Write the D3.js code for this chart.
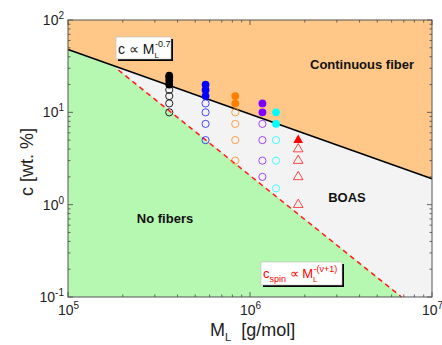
<!DOCTYPE html>
<html>
<head>
<meta charset="utf-8">
<script src="https://cdn.jsdelivr.net/npm/d3@7"></script>
<style>
  body { margin: 0; background: #fff; }
  svg text { font-family: "Liberation Sans", Arial, sans-serif; }
</style>
</head>
<body>
<svg id="chart" width="442" height="345"></svg>
<script>
// molar masses of each series (g/mol)
const seriesMass = [3.6e5, 5.7e5, 8.3e5, 1.17e6, 1.39e6, 1.84e6];
const seriesColor = ["#000000", "#0000ff", "#ff8000", "#8000ff", "#00ffff", "#ff0000"];
// concentrations, filled = continuous fiber, open = BOAS
const filledConc = [
  [20, 22, 24, 25],
  [15, 17.5, 20],
  [12.5, 15],
  [10, 12.5],
  [7.5, 10],
  [5]
];
const openConc = [
  [10, 12.5, 15, 17.5],
  [5, 7.5, 10, 12.5],
  [3, 5, 7.5, 10],
  [2, 3, 5, 7.5],
  [1.5, 3, 5],
  [1, 2, 3, 4]
];
const seriesShape = ["circle", "circle", "circle", "circle", "circle", "triangle"];

// boundary lines c = a * (M / m0)^k
const upperLine = { a: 48, m0: 1e5, k: -0.7 };
const spinLine = { a: 0.1, m0: 6.8e6, k: -1.58 };

const xTicks = [1e5, 1e6, 1e7];
const xTickExp = ["5", "6", "7"];
const yTicks = [0.1, 1, 10, 100];
const yTickExp = ["-1", "0", "1", "2"];

const svg = d3.select("#chart");
const pL = 68, pR = 432, pT = 20, pB = 297;

const x = d3.scaleLog().domain([1e5, 1e7]).range([pL, pR]);
const y = d3.scaleLog().domain([0.1, 100]).range([pB, pT]);

function lineC(l, m) { return l.a * Math.pow(m / l.m0, l.k); }
function lineM(l, c) { return l.m0 * Math.pow(c / l.a, 1 / l.k); }

// intersection of the two boundaries (log-log straight lines)
const lu = Math.log10(upperLine.a) - upperLine.k * Math.log10(upperLine.m0);
const ls = Math.log10(spinLine.a) - spinLine.k * Math.log10(spinLine.m0);
const mCross = Math.pow(10, (ls - lu) / (upperLine.k - spinLine.k));
const cCross = lineC(upperLine, mCross);
const mEnd = lineM(spinLine, 0.1);

const line = d3.line().x(d => x(d[0])).y(d => y(d[1]));

// regions
svg.append("rect").attr("x", pL).attr("y", pT)
  .attr("width", pR - pL).attr("height", pB - pT)
  .attr("fill", "#ffc888");

svg.append("path")
  .attr("d", line([[mCross, cCross], [1e7, lineC(upperLine, 1e7)], [1e7, 0.1], [mEnd, 0.1]]) + "Z")
  .attr("fill", "#f3f3f3");

svg.append("path")
  .attr("d", line([[1e5, 0.1], [1e5, lineC(upperLine, 1e5)], [mCross, cCross], [mEnd, 0.1]]) + "Z")
  .attr("fill", "#b6f7b2");

// boundary lines
svg.append("path")
  .attr("d", line([[1e5, lineC(upperLine, 1e5)], [1e7, lineC(upperLine, 1e7)]]))
  .attr("fill", "none").attr("stroke", "#000").attr("stroke-width", 1.6);

svg.append("path")
  .attr("d", line([[mCross * 1.08, lineC(spinLine, mCross * 1.08)], [mEnd, 0.1]]))
  .attr("fill", "none").attr("stroke", "#ff1a1a").attr("stroke-width", 1.5)
  .attr("stroke-dasharray", "5,4");

// ticks, inside, on all sides
const minorX = [], minorY = [];
[1e5, 1e6].forEach(d => { for (let i = 2; i <= 9; i++) minorX.push(d * i); });
[0.1, 1, 10].forEach(d => { for (let i = 2; i <= 9; i++) minorY.push(d * i); });

const tg = svg.append("g").attr("stroke", "#444").attr("stroke-width", 0.8);
function vTick(v, len) {
  tg.append("line").attr("x1", x(v)).attr("x2", x(v)).attr("y1", pB).attr("y2", pB - len);
  tg.append("line").attr("x1", x(v)).attr("x2", x(v)).attr("y1", pT).attr("y2", pT + len);
}
function hTick(v, len) {
  tg.append("line").attr("y1", y(v)).attr("y2", y(v)).attr("x1", pL).attr("x2", pL + len);
  tg.append("line").attr("y1", y(v)).attr("y2", y(v)).attr("x1", pR).attr("x2", pR - len);
}
xTicks.forEach(v => vTick(v, 5));
minorX.forEach(v => vTick(v, 2.5));
yTicks.forEach(v => hTick(v, 5));
minorY.forEach(v => hTick(v, 2.5));

svg.append("rect").attr("x", pL).attr("y", pT)
  .attr("width", pR - pL).attr("height", pB - pT)
  .attr("fill", "none").attr("stroke", "#555").attr("stroke-width", 1);

// tick labels
xTicks.forEach((v, i) => {
  const t = svg.append("text").attr("x", x(v) - 10).attr("y", pB + 18)
    .attr("font-size", 14).attr("fill", "#222");
  t.append("tspan").text("10");
  t.append("tspan").attr("dy", -6).attr("font-size", 10).text(xTickExp[i]);
});
yTicks.forEach((v, i) => {
  const t = svg.append("text").attr("x", pL - 4).attr("y", y(v) + 5)
    .attr("text-anchor", "end").attr("font-size", 14).attr("fill", "#222");
  t.append("tspan").text("10");
  t.append("tspan").attr("dy", -6).attr("font-size", 10).text(yTickExp[i]);
});

// axis titles
const xt = svg.append("text").attr("x", 210).attr("y", 336)
  .attr("font-size", 18).attr("fill", "#222");
xt.append("tspan").text("M");
xt.append("tspan").attr("dy", 5).attr("font-size", 11).text("L");
xt.append("tspan").attr("dy", -5).text("\u00A0\u00A0[g/mol]");

svg.append("text").attr("transform", "translate(33,162) rotate(-90)")
  .attr("text-anchor", "middle").attr("font-size", 18).attr("fill", "#222")
  .text("c [wt. %]");

// data points
const sym = d3.symbol().type(d3.symbolTriangle).size(40);
seriesMass.forEach((m, i) => {
  const g = svg.append("g");
  const col = seriesColor[i];
  if (seriesShape[i] === "circle") {
    g.selectAll(".o").data(openConc[i]).enter().append("circle")
      .attr("cx", x(m)).attr("cy", d => y(d)).attr("r", 3.6)
      .attr("fill", "none").attr("stroke", col).attr("stroke-width", 1)
      .attr("stroke-opacity", i === 0 ? 0.85 : 0.7);
    g.selectAll(".f").data(filledConc[i]).enter().append("circle")
      .attr("cx", x(m)).attr("cy", d => y(d)).attr("r", 3.9)
      .attr("fill", col);
  } else {
    g.selectAll(".o").data(openConc[i]).enter().append("path")
      .attr("d", sym).attr("transform", d => `translate(${x(m)},${y(d)})`)
      .attr("fill", "none").attr("stroke", col).attr("stroke-width", 1)
      .attr("stroke-opacity", 0.7);
    g.selectAll(".f").data(filledConc[i]).enter().append("path")
      .attr("d", sym).attr("transform", d => `translate(${x(m)},${y(d)})`)
      .attr("fill", col);
  }
});

// region labels
svg.append("text").attr("x", 362).attr("y", 69).attr("text-anchor", "middle")
  .attr("font-size", 13).attr("font-weight", "bold").attr("fill", "#111").text("Continuous fiber");
svg.append("text").attr("x", 347).attr("y", 202).attr("text-anchor", "middle")
  .attr("font-size", 13).attr("font-weight", "bold").attr("fill", "#111").text("BOAS");
svg.append("text").attr("x", 165).attr("y", 223).attr("text-anchor", "middle")
  .attr("font-size", 13).attr("font-weight", "bold").attr("fill", "#111").text("No fibers");

// annotation boxes with shadow
function noteBox(bx, by, bw, bh) {
  svg.append("rect").attr("x", bx + 2).attr("y", by + 2).attr("width", bw).attr("height", bh).attr("fill", "#000");
  svg.append("rect").attr("x", bx).attr("y", by).attr("width", bw).attr("height", bh)
    .attr("fill", "#fff").attr("stroke", "#bbb").attr("stroke-width", 0.6);
}
noteBox(116, 37, 55, 22);
const n1 = svg.append("text").attr("x", 118).attr("y", 54).attr("font-size", 14).attr("fill", "#111");
n1.append("tspan").text("c \u221D M");
n1.append("tspan").attr("dy", 4).attr("font-size", 8).text("L");
n1.append("tspan").attr("dy", -11).attr("dx", -4).attr("font-size", 9).text("-0.7");

noteBox(261, 262, 81, 23);
const n2 = svg.append("text").attr("x", 263).attr("y", 278).attr("font-size", 13).attr("fill", "#ff0000");
n2.append("tspan").text("c");
n2.append("tspan").attr("dy", 4).attr("font-size", 9).text("spin");
n2.append("tspan").attr("dy", -4).text(" \u221D M");
n2.append("tspan").attr("dy", 4).attr("font-size", 8).text("L");
n2.append("tspan").attr("dy", -10).attr("dx", -4).attr("font-size", 9).text("-(\u03BD+1)");
</script>
</body>
</html>
